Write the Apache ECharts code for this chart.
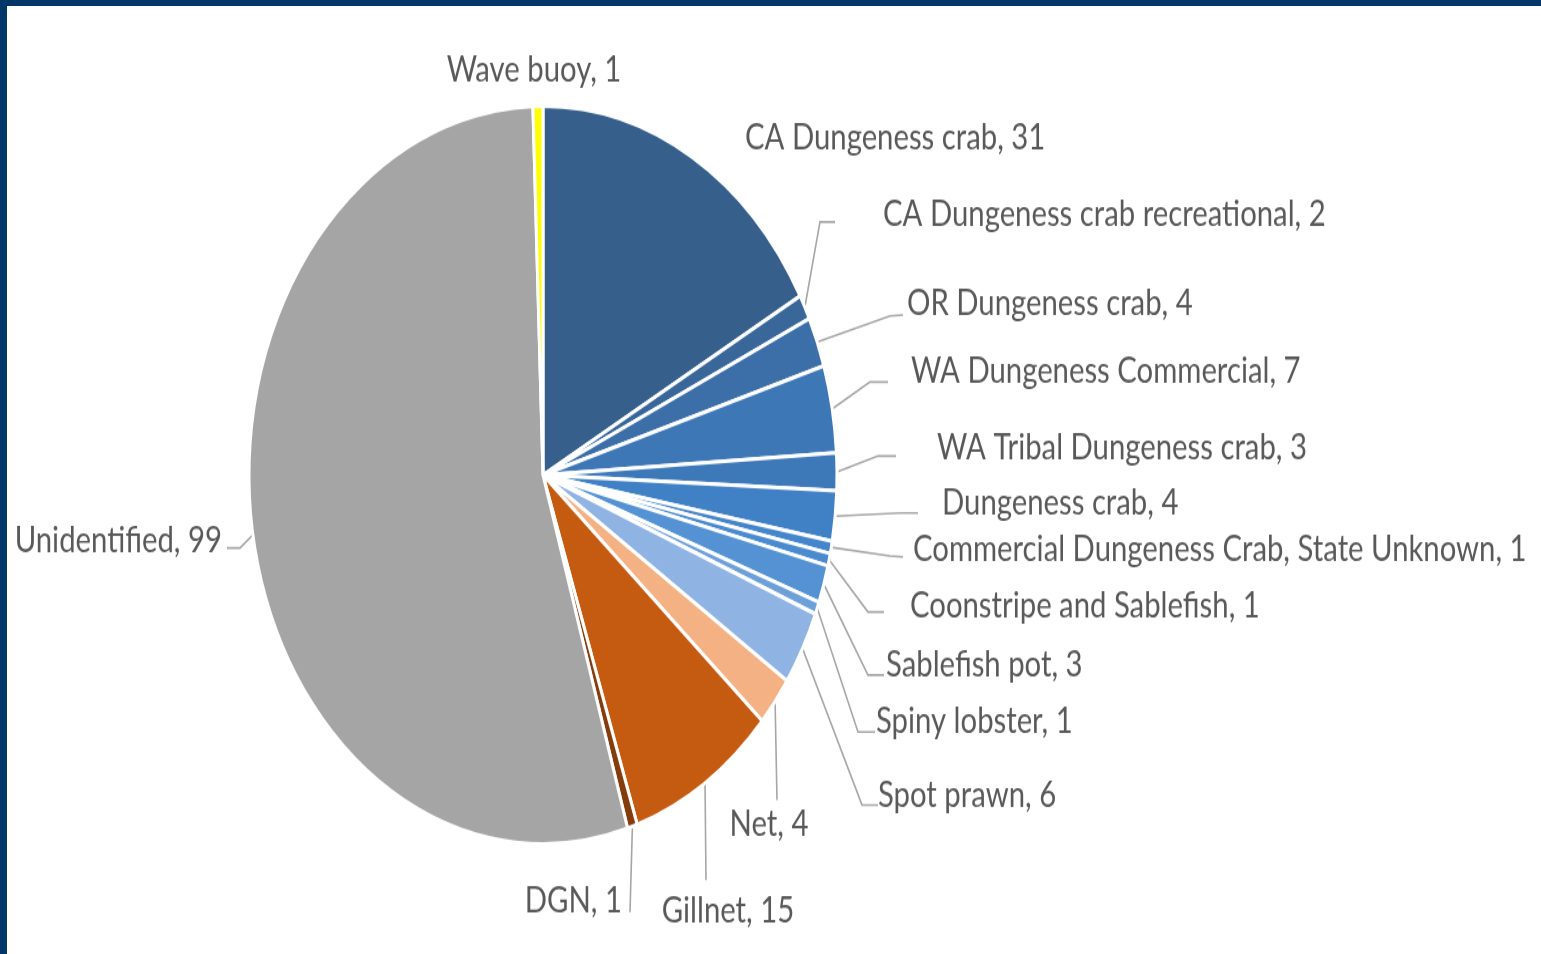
<!DOCTYPE html>
<html>
<head>
<meta charset="utf-8">
<script src="https://cdn.jsdelivr.net/npm/echarts@6/dist/echarts.min.js"></script>
<style>
  html, body { margin: 0; padding: 0; width: 1541px; height: 954px; overflow: hidden; background: #013668; }
  #panel { position: absolute; left: 7px; top: 6px; right: 0; bottom: 0; background: #ffffff; }
  #chart { position: absolute; left: 0; top: 0; width: 1541px; transform-origin: 0 0; }
</style>
</head>
<body>
<div id="panel"></div>
<div id="chart"></div>
<script>
// Gear types and counts
const categories = [
  'CA Dungeness crab',
  'CA Dungeness crab recreational',
  'OR Dungeness crab',
  'WA Dungeness Commercial',
  'WA Tribal Dungeness crab',
  'Dungeness crab',
  'Commercial Dungeness Crab, State Unknown',
  'Coonstripe and Sablefish',
  'Sablefish pot',
  'Spiny lobster',
  'Spot prawn',
  'Net',
  'Gillnet',
  'DGN',
  'Unidentified',
  'Wave buoy'
];
const counts = [31, 2, 4, 7, 3, 4, 1, 1, 3, 1, 6, 4, 15, 1, 99, 1];
const sliceColors = [
  '#365f8c', '#3a679a', '#3c6ea8', '#3e77b6', '#3d78b8', '#4080c4', '#4585cb', '#4a8ace',
  '#5592d3', '#6d9fd9', '#8fb4e3', '#f4b183', '#c55a11', '#843c0c', '#a5a5a5', '#ffff00'
];

// Vertical stretch of the whole drawing
const SCALE = 1.255;
const W = 1541, H = 954;
const chartEl = document.getElementById('chart');
chartEl.style.height = (H / SCALE) + 'px';
chartEl.style.transform = 'scaleY(' + SCALE + ')';

// Label placement on the page: [x, y, align, leader bend/end points]
const labelPlacement = [
  [745, 137, 'left', null],
  [883, 214, 'left', [[820, 222], [835, 222]]],
  [907, 303, 'left', [[890, 316], [903, 315]]],
  [911, 371, 'left', [[870, 382], [888, 382]]],
  [937, 447, 'left', [[878, 456], [896, 456]]],
  [942, 503, 'left', [[900, 513], [918, 513]]],
  [913, 549, 'left', [[890, 556], [903, 557]]],
  [910, 606, 'left', [[868, 612], [884, 612]]],
  [886, 664, 'left', [[868, 675], [884, 675]]],
  [876, 721, 'left', [[858, 732], [875, 732]]],
  [878, 795, 'left', [[862, 805], [878, 805]]],
  [769, 824, 'center', [[777, 800], [777, 800]]],
  [728, 911, 'center', [[706, 880], [706, 880]]],
  [622, 901, 'right', [[630, 912], [630, 912]]],
  [222, 540, 'right', [[240, 548], [227, 548]]],
  [534, 70, 'center', null]
];

const chart = echarts.init(chartEl, null, { renderer: 'canvas', width: W, height: H / SCALE });

const data = categories.map((name, i) => ({
  name: name,
  value: counts[i],
  itemStyle: { color: sliceColors[i] },
  labelLine: { show: labelPlacement[i][3] !== null }
}));

chart.setOption({
  animation: false,
  series: [{
    type: 'pie',
    center: [543, 475 / SCALE],
    radius: 294,
    startAngle: 90,
    clockwise: true,
    avoidLabelOverlap: false,
    minShowLabelAngle: 0,
    itemStyle: { borderColor: '#ffffff', borderWidth: 3 },
    label: {
      show: true,
      position: 'outside',
      formatter: '{b}, {c}',
      color: '#595959',
      fontFamily: 'Lato',
      fontSize: 29.3
    },
    labelLine: {
      show: true,
      length: 10,
      length2: 10,
      smooth: false,
      lineStyle: { color: '#a6a6a6', width: 1.6 }
    },
    emphasis: { disabled: true },
    labelLayout: function (params) {
      const p = labelPlacement[params.dataIndex];
      const out = {
        x: p[0],
        y: p[1] / SCALE,
        align: p[2],
        verticalAlign: 'middle'
      };
      if (p[3] && params.labelLinePoints) {
        const start = params.labelLinePoints[0];
        out.labelLinePoints = [
          [start[0], start[1]],
          [p[3][0][0], p[3][0][1] / SCALE],
          [p[3][1][0], p[3][1][1] / SCALE]
        ];
      }
      return out;
    },
    data: data
  }]
});
</script>
</body>
</html>
